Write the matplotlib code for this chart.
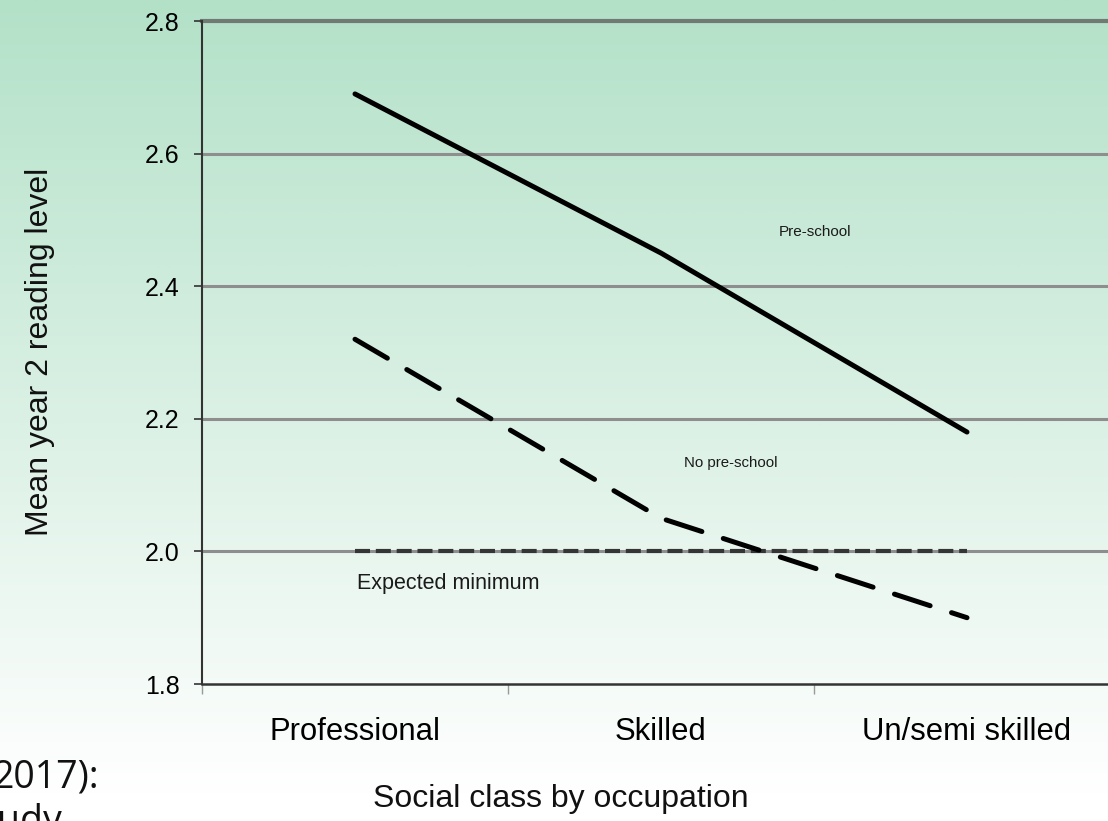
import numpy as np
import matplotlib
matplotlib.use("Agg")
import matplotlib.pyplot as plt
from matplotlib.colors import LinearSegmentedColormap

# ---- data ----
categories = ["Professional", "Skilled", "Un/semi skilled"]
preschool = [2.69, 2.45, 2.18]
no_preschool = [2.32, 2.05, 1.90]
expected_minimum = [2.0, 2.0, 2.0]
y_ticks = [1.8, 2.0, 2.2, 2.4, 2.6, 2.8]
y_tick_labels = ["1.8", "2.0", "2.2", "2.4", "2.6", "2.8"]

W, H = 1108, 821
fig = plt.figure(figsize=(W / 100, H / 100), dpi=100)

# background gradient (green at top to white at bottom)
bg = fig.add_axes([0, 0, 1, 1], zorder=-10)
bg.set_axis_off()
cmap = LinearSegmentedColormap.from_list("g", ["#b3e1c8", "#ffffff"])
grad = np.linspace(0, 1, 400).reshape(-1, 1)
grad = np.clip(grad * 1.03, 0, 1)
bg.imshow(grad, aspect="auto", cmap=cmap, extent=[0, 1, 0, 1], origin="upper")
bg.set_xlim(0, 1)
bg.set_ylim(0, 1)

font = "Liberation Sans"

ax = fig.add_axes([202 / W, 137 / H, 918 / W, 663 / H])
ax.patch.set_alpha(0)
x = np.arange(len(categories))
ax.set_xlim(-0.5, len(categories) - 0.5)
ax.set_ylim(1.8, 2.8)

# gridlines
for yv in y_ticks[1:-1]:
    ax.axhline(yv, color="#8e8e8e", lw=2.2, zorder=1)
ax.axhline(y_ticks[-1], color="#6f7b73", lw=3.0, zorder=1, clip_on=False)

# series
ax.plot(x, expected_minimum, color="#353535", lw=3.0, dashes=(3.6, 1.4),
        solid_capstyle="butt", dash_capstyle="butt", zorder=3)
ax.plot(x, no_preschool, color="black", lw=3.6, dashes=(7.5, 4.5),
        dash_capstyle="round", zorder=4)
ax.plot(x, preschool, color="black", lw=3.6, solid_capstyle="round", zorder=4)

# annotations
ax.text(1.503, 2.482, "Pre-school", fontsize=11, family=font, ha="center",
        va="center", color="#1a1a1a")
ax.text(1.229, 2.133, "No pre-school", fontsize=10.8, family=font, ha="center",
        va="center", color="#1a1a1a")
ax.text(0.304, 1.952, "Expected minimum", fontsize=15.5, family=font, ha="center",
        va="center", color="#1a1a1a")

# spines
for s in ["top", "right"]:
    ax.spines[s].set_visible(False)
ax.spines["left"].set_color("#333333")
ax.spines["left"].set_linewidth(1.5)
ax.spines["bottom"].set_color("#333333")
ax.spines["bottom"].set_linewidth(1.8)

# y ticks
ax.set_yticks(y_ticks)
ax.set_yticklabels(y_tick_labels, fontsize=18, family=font)
ax.tick_params(axis="y", direction="out", length=6, width=1.2, color="#333333",
               pad=10)

# x ticks: boundaries as major, labels at category centers
ax.set_xticks([-0.5, 0.5, 1.5, 2.5])
ax.set_xticklabels([])
ax.tick_params(axis="x", which="major", direction="out", length=7, width=1,
               color="#999999")
ax.set_xticks(x, minor=True)
ax.set_xticklabels(categories, minor=True, fontsize=22.3, family=font)
ax.tick_params(axis="x", which="minor", length=0, pad=24)

# axis titles
fig.text(40 / W, 1 - 352 / H, "Mean year 2 reading level", rotation=90,
         ha="center", va="center", fontsize=23, family=font, color="#111111")
fig.text(561 / W, 1 - 799 / H, "Social class by occupation", ha="center",
         va="center", fontsize=23, family=font, color="#111111")

# clipped slide text at bottom-left
fig.text(-8 / W, (H - 787) / H, "2017):", ha="left", va="baseline",
         fontsize=27, family="Open Sans", color="#111111")
fig.text(-3 / W, (H - 832) / H, "udy", ha="left", va="baseline",
         fontsize=27, family="Open Sans", color="#111111")

fig.savefig("out.png", dpi=100)
